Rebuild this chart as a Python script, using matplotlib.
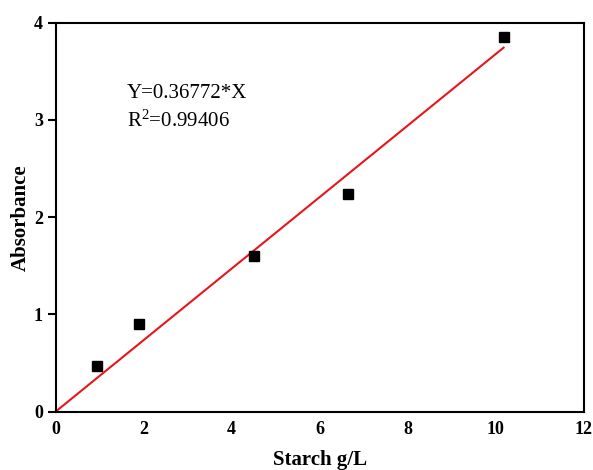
import numpy as np
import matplotlib.pyplot as plt

# datos de la curva de calibracion
starch = [0.94, 1.90, 4.50, 6.64, 10.18]
absorb = [0.47, 0.90, 1.60, 2.24, 3.85]
slope = 0.36772
r2 = 0.99406

x_ticks = [0, 2, 4, 6, 8, 10, 12]
y_ticks = [0, 1, 2, 3, 4]

plt.rcParams['font.family'] = ['Liberation Serif', 'DejaVu Serif']
plt.rcParams['mathtext.fontset'] = 'custom'
plt.rcParams['mathtext.rm'] = 'Liberation Serif'
plt.rcParams['mathtext.it'] = 'Liberation Serif:italic'

fig = plt.figure(figsize=(5.93, 4.70), dpi=100)
ax = fig.add_axes([0.0936, 0.124, 0.8907, 0.8277])

# ajuste lineal por el origen
xf = np.array([0, max(starch)])
ax.plot(xf, slope * xf, color='#e8151b', lw=1.5, zorder=2)
ax.plot(starch, absorb, 's', color='black', ms=7, zorder=3)

ax.text(1.62, 3.225, 'Y=%.5f*X' % slope, fontsize=15)
ax.text(1.62, 2.925, 'R$^\\mathrm{2}$=%.5f' % r2, fontsize=15)

ax.set_xlim(0, 12)
ax.set_ylim(0, 4)
ax.set_xticks(x_ticks)
ax.set_yticks(y_ticks)
ax.tick_params(axis='x', length=0, pad=7, labelsize=13)
ax.tick_params(axis='y', length=6, width=1.5, direction='out', pad=3, labelsize=13)
for lab in ax.get_xticklabels() + ax.get_yticklabels():
    lab.set_fontweight('bold')
for s in ax.spines.values():
    s.set_linewidth(1.5)

ax.set_xlabel('Starch g/L', fontsize=15, fontweight='bold', labelpad=8)
ax.set_ylabel('Absorbance', fontsize=15, fontweight='bold', labelpad=2)

fig.savefig('out.png', dpi=100)
